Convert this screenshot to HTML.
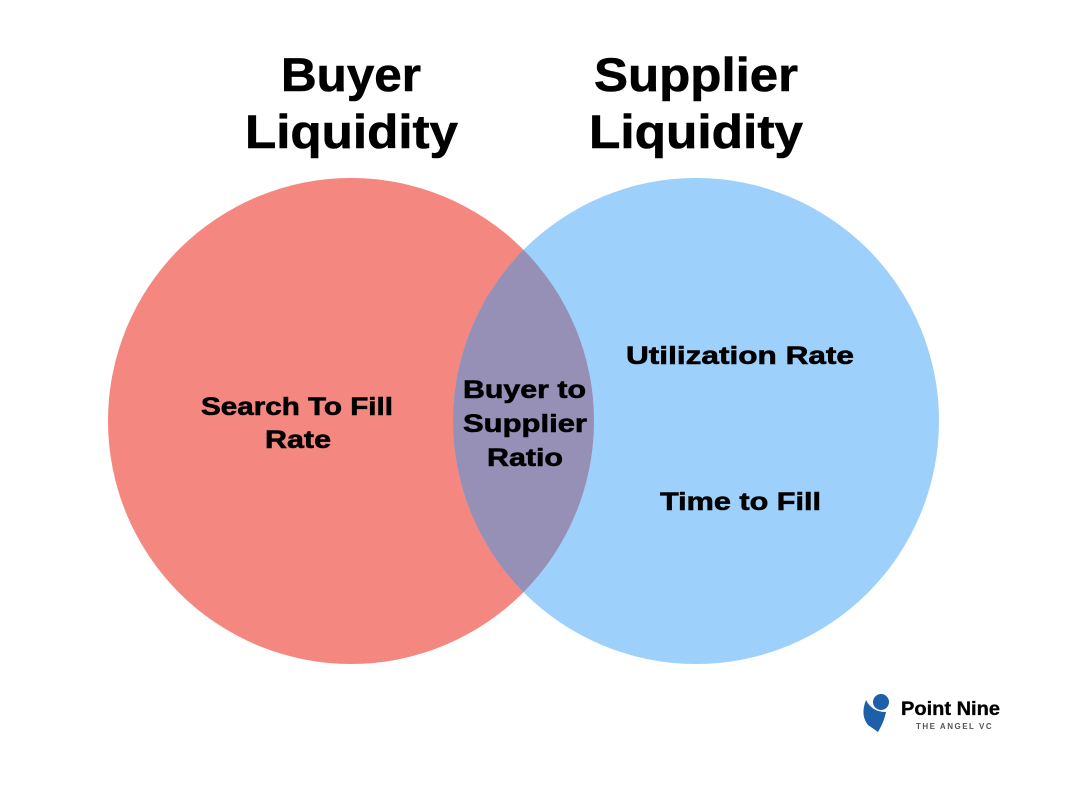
<!DOCTYPE html>
<html><head><style>
html,body{margin:0;padding:0;background:#fff;}
svg{display:block;}
text{font-family:"Liberation Sans",sans-serif;font-weight:bold;fill:#000;stroke:#000;stroke-width:0.6;}
</style></head><body>
<svg width="1070" height="786" viewBox="0 0 1070 786">
<defs><clipPath id="cl"><circle cx="351" cy="421" r="243"/></clipPath></defs>
<circle cx="351" cy="421" r="243" fill="#F4877F"/>
<circle cx="696" cy="421" r="243" fill="#9DD0FA"/>
<circle cx="696" cy="421" r="243" fill="#968FB6" clip-path="url(#cl)"/>
<g font-size="47" lengthAdjust="spacingAndGlyphs">
<text x="281" y="91" textLength="140" lengthAdjust="spacingAndGlyphs">Buyer</text>
<text x="245" y="148" textLength="213" lengthAdjust="spacingAndGlyphs">Liquidity</text>
<text x="594" y="91" textLength="204" lengthAdjust="spacingAndGlyphs">Supplier</text>
<text x="589" y="148" textLength="214" lengthAdjust="spacingAndGlyphs">Liquidity</text>
</g>
<g font-size="25">
<text x="201" y="415" textLength="192" lengthAdjust="spacingAndGlyphs">Search To Fill</text>
<text x="265" y="448" textLength="66" lengthAdjust="spacingAndGlyphs">Rate</text>
<text x="463" y="398" textLength="123" lengthAdjust="spacingAndGlyphs">Buyer to</text>
<text x="463" y="432" textLength="124" lengthAdjust="spacingAndGlyphs">Supplier</text>
<text x="487" y="466" textLength="76" lengthAdjust="spacingAndGlyphs">Ratio</text>
<text x="626" y="364" textLength="228" lengthAdjust="spacingAndGlyphs">Utilization Rate</text>
<text x="660" y="510" textLength="161" lengthAdjust="spacingAndGlyphs">Time to Fill</text>
</g>
<g>
<path d="M866 700 Q860 715 868 725 L878 732 Q884 722 886 712 Q872 712 866 700Z" fill="#1d5fa8"/>
<circle cx="881" cy="702" r="8" fill="#1d5fa8"/>
<text x="901" y="715" font-size="19" textLength="99" lengthAdjust="spacingAndGlyphs" style="stroke-width:0.3">Point Nine</text>
<text x="916" y="729" font-size="8" letter-spacing="1.5" style="fill:#555;stroke:none">THE ANGEL VC</text>
</g>
</svg>
</body></html>
